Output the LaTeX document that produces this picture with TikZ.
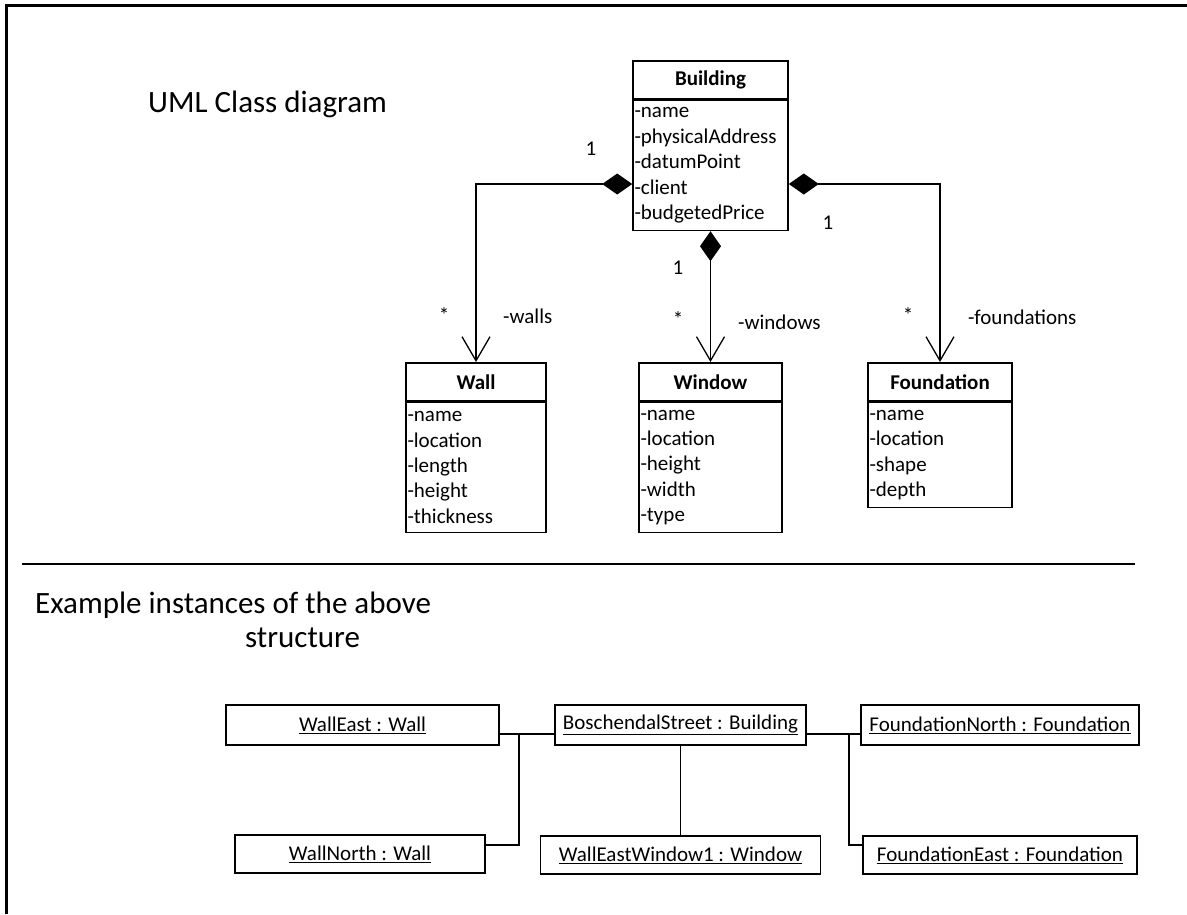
\documentclass[tikz,border=0pt]{standalone}
\usepackage{fontspec}
\setmainfont{Carlito}
\usetikzlibrary{arrows.meta}

\begin{document}
\begin{tikzpicture}[x=1pt,y=-1pt,
  ctitle/.style={draw, line width=1.6pt, anchor=north, minimum height=38pt,
    inner sep=0pt, font=\fontsize{21}{25.4}\selectfont\bfseries},
  cattrs/.style={draw, line width=1.6pt, anchor=north, align=left,
    inner xsep=1.5pt, inner ysep=0pt, font=\fontsize{21}{25.4}\selectfont},
  inst/.style={draw, line width=1.6pt, inner sep=0pt,
    font=\fontsize{21}{25}\selectfont},
  comp/.style={line width=1.3pt,
    {Diamond[length=30pt,width=21pt]}-{Straight Barb[length=24pt,width=28pt]}},
  link/.style={line width=1.4pt},
  lbl/.style={inner sep=0pt, font=\fontsize{21}{25}\selectfont},
  heading/.style={inner sep=0pt, anchor=base west, font=\fontsize{31}{37}\selectfont}]

\useasboundingbox (0,0) rectangle (1187,914);

% page frame (top and left edges)
\draw[line width=3.5pt] (6.5,914) -- (6.5,5.5) -- (1187,5.5);

% headings
\node[heading] (h1) at (148,112) {UML Class diagram};
\node[heading] (h2) at (35,613) {Example instances of the above};
\node[heading] (h3) at (245,647) {structure};

% separator between the two parts
\draw[line width=1.5pt] (22,564) -- (1135,564);

% ---- classes ----
\node[ctitle, minimum width=155pt] (building) at (710.5,60) {Building};
\node[cattrs, text width=152pt, minimum height=130pt] (building-attrs) at (building.south)
  {-name\\-physicalAddress\\-datumPoint\\-client\\-budgetedPrice};

\node[ctitle, minimum width=140pt] (wall) at (476,362) {Wall};
\node[cattrs, text width=137pt, minimum height=130pt] (wall-attrs) at (wall.south)
  {-name\\-location\\-length\\-height\\-thickness};

\node[ctitle, minimum width=143pt] (window) at (710.5,362) {Window};
\node[cattrs, text width=140pt, minimum height=130pt] (window-attrs) at (window.south)
  {-name\\-location\\-height\\-width\\-type};

\node[ctitle, minimum width=144pt] (foundation) at (940,362) {Foundation};
\node[cattrs, text width=141pt, minimum height=105pt] (foundation-attrs) at (foundation.south)
  {-name\\-location\\-shape\\-depth};

% compositions
\coordinate (clientrow) at (0,184);
\draw[comp] (building-attrs.west |- clientrow) -| (wall.north);
\draw[comp] (building-attrs.east |- clientrow) -| (foundation.north);
\draw[comp] (building-attrs.south) -- (window.north);

% multiplicities and role names
\node[lbl, anchor=base] (m1) at (591,155) {1};
\node[lbl, anchor=base] (m2) at (828,229) {1};
\node[lbl, anchor=base] (m3) at (678,274) {1};
\node[lbl, anchor=base] (m4) at (444,322) {*};
\node[lbl, anchor=base] (m5) at (678,326) {*};
\node[lbl, anchor=base] (m6) at (908,322) {*};
\node[lbl, anchor=base west] (r1) at (503,323) {-walls};
\node[lbl, anchor=base west] (r2) at (738,329) {-windows};
\node[lbl, anchor=base west] (r3) at (968,324) {-foundations};

% ---- instances ----
\node[inst, minimum width=273pt, minimum height=40pt] (walleast) at (362.5,725) {\underline{WallEast : Wall}};
\node[inst, minimum width=251pt, minimum height=40pt] (bosch) at (680.5,725) {\underline{BoschendalStreet : Building}};
\node[inst, minimum width=278pt, minimum height=40pt] (fnorth) at (1000,725) {\underline{FoundationNorth : Foundation}};
\node[inst, minimum width=250pt, minimum height=38pt] (wallnorth) at (360,854) {\underline{WallNorth : Wall}};
\node[inst, minimum width=280pt, minimum height=38pt] (wewin) at (680.5,855) {\underline{WallEastWindow1 : Window}};
\node[inst, minimum width=274pt, minimum height=38pt] (feast) at (1000,855) {\underline{FoundationEast : Foundation}};

\coordinate (toprow) at (0,734);
\coordinate (botrow) at (0,845);
\coordinate (jl) at (519,734);
\coordinate (jr) at (849,734);

\draw[link] (walleast.east |- toprow) -- (bosch.west |- toprow);
\draw[link] (bosch.east |- toprow) -- (fnorth.west |- toprow);
\draw[link] (wallnorth.east |- botrow) -| (jl);
\draw[link] (feast.west |- botrow) -| (jr);
\draw[link] (bosch.south) -- (wewin.north);

\end{tikzpicture}
\end{document}
